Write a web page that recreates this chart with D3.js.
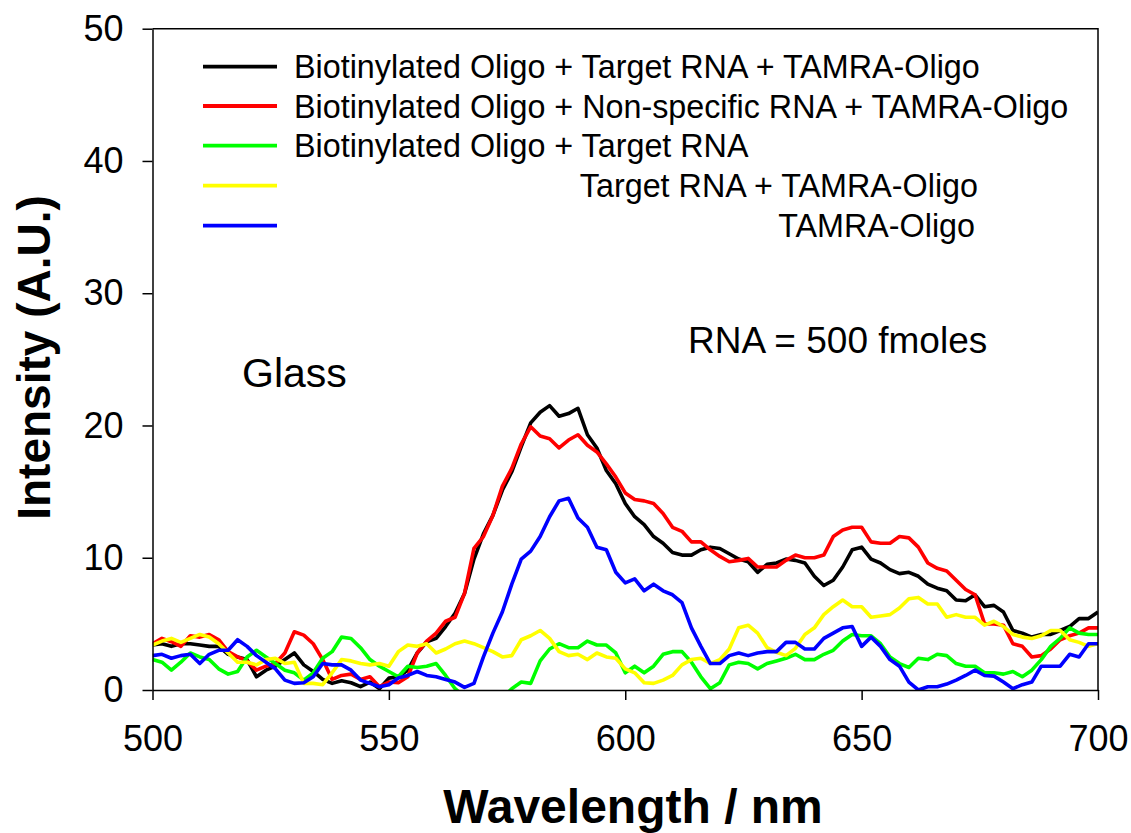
<!DOCTYPE html>
<html>
<head>
<meta charset="utf-8">
<script src="https://cdn.jsdelivr.net/npm/d3@7.9.0/dist/d3.min.js"></script>
<style>
  body { margin: 0; background: #fff; }
  svg { display: block; font-family: "Liberation Sans", Arial, sans-serif; }
</style>
</head>
<body>
<svg id="chart" width="1131" height="833"></svg>
<script>
// wavelength grid (nm), every 2 nm
const wavelengths = [
  500, 502, 504, 506, 508, 510, 512, 514, 516, 518, 520, 522, 524, 526, 528, 530, 532, 534, 536, 538,
  540, 542, 544, 546, 548, 550, 552, 554, 556, 558, 560, 562, 564, 566, 568, 570, 572, 574, 576, 578,
  580, 582, 584, 586, 588, 590, 592, 594, 596, 598, 600, 602, 604, 606, 608, 610, 612, 614, 616, 618,
  620, 622, 624, 626, 628, 630, 632, 634, 636, 638, 640, 642, 644, 646, 648, 650, 652, 654, 656, 658,
  660, 662, 664, 666, 668, 670, 672, 674, 676, 678, 680, 682, 684, 686, 688, 690, 692, 694, 696, 698, 700
];

// Biotinylated Oligo + Target RNA + TAMRA-Oligo
const blackSeries = [
  3.4, 3.5, 3.3, 3.5, 3.5, 3.4, 3.3, 3.3, 2.7, 2.5, 2.3, 1.0, 1.5, 1.8, 2.3, 2.8, 1.9, 1.4, 0.8, 0.5,
  0.7, 0.55, 0.25, 0.6, 0.1, 0.9, 1.0, 1.5, 2.8, 3.65, 3.9, 4.8, 5.8, 7.3, 9.9, 11.8, 13.2, 15.1, 16.5, 18.4,
  20.2, 21.0, 21.5, 20.7, 20.9, 21.3, 19.3, 18.3, 16.6, 15.6, 14.1, 13.1, 12.5, 11.6, 11.1, 10.4, 10.2, 10.2, 10.6, 10.8,
  10.7, 10.3, 9.9, 9.7, 8.9, 9.5, 9.6, 9.9, 9.8, 9.6, 8.6, 7.9, 8.3, 9.3, 10.6, 10.8, 9.9, 9.6, 9.1, 8.8,
  8.9, 8.6, 8.0, 7.7, 7.5, 6.8, 6.75, 7.2, 6.3, 6.4, 5.9, 4.5, 4.3, 4.0, 4.2, 4.2, 4.5, 4.8, 5.4, 5.4, 5.9
];

// Biotinylated Oligo + Non-specific RNA + TAMRA-Oligo
const redSeries = [
  3.5, 3.9, 3.65, 3.3, 4.1, 4.0, 4.2, 3.8, 2.9, 2.5, 2.2, 1.5, 1.8, 2.0, 2.8, 4.4, 4.15, 3.5, 2.3, 0.8,
  1.1, 1.2, 0.8, 1.0, 0.25, 0.6, 0.55, 1.0, 2.8, 3.7, 4.3, 5.2, 5.5, 7.3, 10.7, 11.6, 13.2, 15.4, 16.75, 18.6,
  19.9, 19.2, 19.0, 18.3, 18.9, 19.3, 18.5, 18.0, 17.1, 16.1, 14.9, 14.4, 14.3, 14.1, 13.35, 12.3, 12.0, 11.2, 11.2, 10.6,
  10.1, 9.7, 9.8, 9.95, 9.3, 9.3, 9.3, 9.8, 10.2, 10.0, 10.0, 10.2, 11.6, 12.1, 12.3, 12.3, 11.2, 11.1, 11.1, 11.6,
  11.5, 10.8, 9.6, 9.2, 9.0, 8.3, 7.6, 7.2, 5.0, 5.0, 4.9, 3.5, 3.3, 2.5, 2.6, 3.1, 3.8, 4.1, 4.3, 4.7, 4.7
];

// Biotinylated Oligo + Target RNA
const greenSeries = [
  2.3, 2.1, 1.5, 2.1, 2.8, 2.5, 2.3, 1.6, 1.2, 1.4, 2.5, 3.0, 2.5, 2.0, 1.5, 1.3, 0.75, 1.3, 2.4, 2.9,
  4.0, 3.9, 3.2, 2.3, 1.8, 1.4, 1.0, 1.8, 1.7, 1.8, 2.0, 1.1, 0.1, -0.5, -1.0, -1.2, -1.0, -0.6, 0.1, 0.6,
  0.5, 2.2, 3.1, 3.5, 3.2, 3.2, 3.7, 3.4, 3.4, 2.8, 1.3, 1.8, 1.3, 1.8, 2.7, 2.9, 2.9, 2.1, 1.0, 0.1,
  0.55, 1.9, 2.1, 2.0, 1.6, 2.0, 2.2, 2.4, 2.7, 2.3, 2.3, 2.7, 3.0, 3.7, 4.2, 4.1, 4.1, 3.5, 2.5, 2.0,
  1.7, 2.4, 2.3, 2.7, 2.6, 2.0, 1.8, 1.8, 1.3, 1.3, 1.2, 1.4, 1.0, 1.5, 2.3, 3.3, 3.9, 4.7, 4.3, 4.2, 4.2
];

// Target RNA + TAMRA-Oligo
const yellowSeries = [
  3.4, 3.7, 3.9, 3.6, 3.9, 4.2, 4.0, 3.5, 2.8, 2.1, 2.1, 1.9, 2.3, 2.4, 2.0, 2.1, 0.5, 0.5, 0.4, 1.3,
  2.3, 2.2, 2.0, 1.9, 2.0, 1.8, 2.9, 3.4, 3.3, 3.5, 2.8, 3.1, 3.5, 3.7, 3.5, 3.2, 2.9, 2.5, 2.6, 3.8,
  4.1, 4.5, 3.9, 2.9, 2.6, 2.7, 2.3, 2.8, 2.5, 2.4, 1.6, 1.3, 0.55, 0.5, 0.75, 1.1, 1.9, 2.3, 2.4, 2.0,
  2.3, 3.1, 4.7, 4.9, 4.3, 3.2, 2.85, 2.6, 3.15, 4.2, 4.7, 5.7, 6.3, 6.8, 6.3, 6.3, 5.5, 5.6, 5.7, 6.2,
  6.9, 7.0, 6.5, 6.5, 5.5, 5.7, 5.5, 5.5, 4.9, 5.2, 4.8, 4.2, 4.0, 3.9, 4.1, 4.5, 4.5, 3.8, 3.6, 3.3, 3.5
];

// TAMRA-Oligo
const blueSeries = [
  2.6, 2.7, 2.4, 2.6, 2.7, 2.0, 2.7, 3.0, 3.0, 3.8, 3.3, 2.6, 2.1, 1.6, 0.75, 0.5, 0.55, 1.0, 2.0, 1.9,
  1.9, 1.5, 0.75, 0.5, 0.25, 0.4, 0.9, 1.1, 1.4, 1.1, 1.0, 0.8, 0.6, 0.2, 0.5, 2.5, 4.3, 5.9, 8.0, 9.9,
  10.5, 11.6, 13.1, 14.3, 14.5, 13.0, 12.3, 10.8, 10.6, 8.9, 8.1, 8.4, 7.5, 8.0, 7.5, 7.2, 6.6, 4.7, 3.3, 2.0,
  2.0, 2.6, 2.8, 2.6, 2.8, 2.9, 2.9, 3.6, 3.6, 3.1, 3.1, 3.9, 4.3, 4.7, 4.8, 3.3, 4.0, 3.3, 2.3, 1.8,
  0.6, 0.0, 0.25, 0.25, 0.45, 0.75, 1.1, 1.5, 1.1, 1.05, 0.6, 0.1, 0.4, 0.6, 1.8, 1.8, 1.8, 2.7, 2.5, 3.5, 3.5
];

const legendLabels = [
  "Biotinylated Oligo + Target RNA + TAMRA-Oligo",
  "Biotinylated Oligo + Non-specific RNA + TAMRA-Oligo",
  "Biotinylated Oligo + Target RNA",
  "Target RNA + TAMRA-Oligo",
  "TAMRA-Oligo"
];
const seriesColors = ["#000000", "#ff0000", "#00ff00", "#ffff00", "#0000ff"];
const allSeries = [blackSeries, redSeries, greenSeries, yellowSeries, blueSeries];

const xTicks = [500, 550, 600, 650, 700];
const yTicks = [0, 10, 20, 30, 40, 50];

const svg = d3.select("#chart");
svg.append("rect").attr("width", 1131).attr("height", 833).attr("fill", "#fff");

const plotL = 152.5, plotR = 1098, plotT = 28.7, plotB = 690;

const x = d3.scaleLinear().domain([500, 700]).range([plotL, plotR]);
const y = d3.scaleLinear().domain([0, 50]).range([plotB, plotT]);

// clip so the lines that dip below zero are cut at the axis
svg.append("clipPath").attr("id", "plotClip")
  .append("rect")
  .attr("x", plotL).attr("y", plotT)
  .attr("width", plotR - plotL).attr("height", plotB - plotT);

const line = d3.line()
  .x((d, i) => x(wavelengths[i]))
  .y(d => y(d));

const plot = svg.append("g").attr("clip-path", "url(#plotClip)");
allSeries.forEach((s, i) => {
  plot.append("path")
    .datum(s)
    .attr("d", line)
    .attr("fill", "none")
    .attr("stroke", seriesColors[i])
    .attr("stroke-width", 3.6)
    .attr("stroke-linejoin", "round");
});

// frame (top and right)
svg.append("path")
  .attr("d", `M${plotL},${plotT}H${plotR}V${plotB}`)
  .attr("fill", "none")
  .attr("stroke", "#000")
  .attr("stroke-width", 1.5);

// axes
const xAxis = svg.append("g")
  .attr("transform", `translate(0,${plotB})`)
  .call(d3.axisBottom(x).tickValues(xTicks).tickFormat(d3.format("d"))
    .tickSize(10).tickSizeOuter(0).tickPadding(25));

const yAxis = svg.append("g")
  .attr("transform", `translate(${plotL},0)`)
  .call(d3.axisLeft(y).tickValues(yTicks).tickFormat(d3.format("d"))
    .tickSize(10).tickSizeOuter(0).tickPadding(19));

[xAxis, yAxis].forEach(a => {
  a.select(".domain").attr("stroke", "#000").attr("stroke-width", 1.5);
  a.selectAll(".tick line").attr("stroke", "#000").attr("stroke-width", 1.5);
  a.selectAll(".tick text")
    .attr("fill", "#000")
    .style("font-size", "36px")
    .style("font-family", "'Liberation Sans', Arial, sans-serif");
});

// axis titles
svg.append("text")
  .attr("transform", "translate(50,357.5) rotate(-90)")
  .attr("text-anchor", "middle")
  .style("font-size", "46px")
  .style("font-weight", "bold")
  .text("Intensity (A.U.)");

svg.append("text")
  .attr("x", 633).attr("y", 823)
  .attr("text-anchor", "middle")
  .style("font-size", "48px")
  .style("font-weight", "bold")
  .text("Wavelength / nm");

// legend
const legendY = [66.7, 106, 145.7, 185.7, 225.7];
const legendTextX = [294, 294, 294, 978, 975];
const legendAnchor = ["start", "start", "start", "end", "end"];
const legend = svg.append("g");
legendLabels.forEach((lab, i) => {
  legend.append("line")
    .attr("x1", 203).attr("x2", 277)
    .attr("y1", legendY[i]).attr("y2", legendY[i])
    .attr("stroke", seriesColors[i])
    .attr("stroke-width", 3.8);
  legend.append("text")
    .attr("x", legendTextX[i])
    .attr("y", legendY[i] + 11.5)
    .attr("text-anchor", legendAnchor[i])
    .style("font-size", "32.3px")
    .text(lab);
});

// annotations
svg.append("text")
  .attr("x", 688).attr("y", 353)
  .style("font-size", "37px")
  .text("RNA = 500 fmoles");

svg.append("text")
  .attr("x", 242).attr("y", 387)
  .style("font-size", "41px")
  .text("Glass");
</script>
</body>
</html>
